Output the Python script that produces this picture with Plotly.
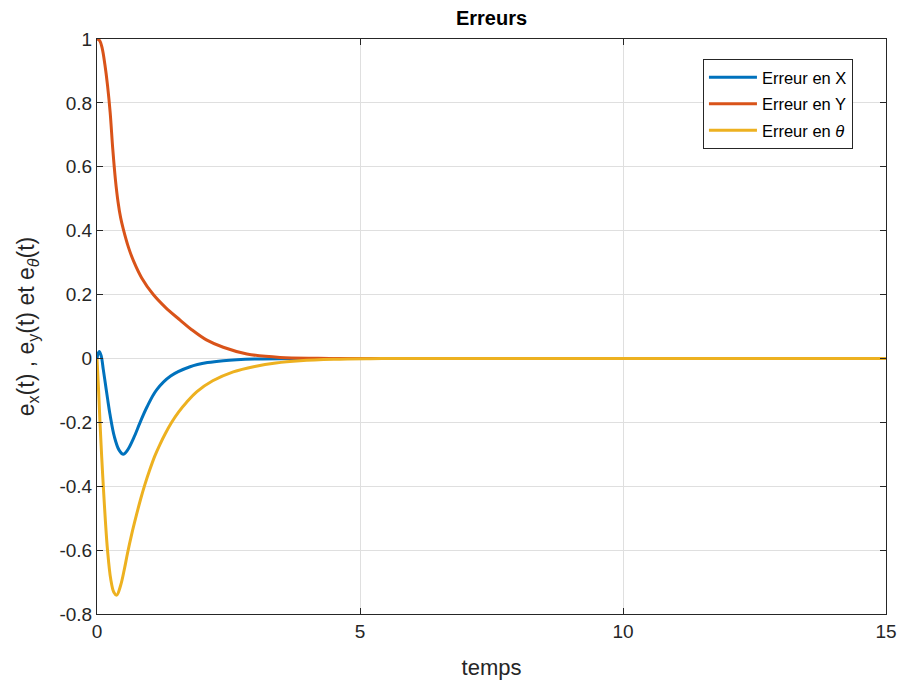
import plotly.graph_objects as go

# ---- data ----
t_x = [0, 0.02, 0.045, 0.08, 0.12, 0.16, 0.2, 0.25, 0.33, 0.42, 0.5, 0.58, 0.7, 0.82, 0.95, 1.13, 1.4, 1.77, 2.1, 2.4, 3.0, 4.0, 5.0, 15]
e_x = [0, 0.015, 0.022, 0.008, -0.035, -0.08, -0.125, -0.178, -0.245, -0.287, -0.300, -0.287, -0.248, -0.200, -0.152, -0.099, -0.055, -0.026, -0.013, -0.007, -0.002, 0, 0, 0]

t_y = [0, 0.05, 0.1, 0.15, 0.2, 0.25, 0.3, 0.35, 0.4, 0.45, 0.5, 0.6, 0.7, 0.85, 1.07, 1.3, 1.58, 1.8, 2.08, 2.4, 2.85, 3.48, 4.2, 5.0, 15]
e_y = [1.0, 0.995, 0.97, 0.92, 0.855, 0.77, 0.655, 0.56, 0.49, 0.44, 0.405, 0.347, 0.303, 0.252, 0.20, 0.16, 0.12, 0.09, 0.058, 0.035, 0.014, 0.003, 0.0005, 0, 0]

t_th = [0, 0.03, 0.057, 0.09, 0.12, 0.16, 0.2, 0.26, 0.32, 0.374, 0.45, 0.52, 0.58, 0.66, 0.75, 0.83, 0.91, 1.0, 1.1, 1.2, 1.3, 1.42, 1.55, 1.7, 1.9, 2.2, 2.59, 3.0, 3.4, 3.86, 4.5, 5.2, 6.0, 15]
e_th = [0, -0.1, -0.2, -0.31, -0.4, -0.51, -0.6, -0.69, -0.732, -0.741, -0.71, -0.66, -0.61, -0.55, -0.49, -0.44, -0.395, -0.35, -0.305, -0.268, -0.235, -0.2, -0.168, -0.138, -0.104, -0.07, -0.042, -0.025, -0.014, -0.007, -0.0025, -0.0007, 0, 0]

series_names = ["Erreur en X", "Erreur en Y", "Erreur en <i>θ</i>"]
series_colors = ["#0072BD", "#D95319", "#EDB120"]

x_ticks = [0, 5, 10, 15]
x_ticklabels = ["0", "5", "10", "15"]
y_ticks = [-0.8, -0.6, -0.4, -0.2, 0, 0.2, 0.4, 0.6, 0.8, 1]
y_ticklabels = ["-0.8", "-0.6", "-0.4", "-0.2", "0", "0.2", "0.4", "0.6", "0.8", "1"]

FONT = "Liberation Sans, Arial, Helvetica, sans-serif"
AX = "#262626"

W, H = 902, 691

fig = go.Figure()
for i, (tt, vv, nm, col) in enumerate(zip([t_x, t_y, t_th], [e_x, e_y, e_th], series_names, series_colors)):
    fig.add_trace(go.Scatter(x=tt, y=vv, mode="lines", name=nm, legendgroup=f"g{i}",
                             line=dict(color=col, width=3, shape="spline", smoothing=1.0)))

axis_common = dict(showline=True, linecolor=AX, linewidth=1, mirror="ticks",
                   ticks="inside", ticklen=6, tickcolor=AX, showgrid=True,
                   gridcolor="#dfdfdf", gridwidth=1, zeroline=False, automargin=False,
                   tickfont=dict(family=FONT, size=19, color=AX))

fig.update_xaxes(range=[0, 15], tickvals=x_ticks, ticktext=x_ticklabels,
                 title=dict(text="temps", font=dict(family=FONT, size=22, color=AX), standoff=18),
                 **axis_common)
fig.update_yaxes(range=[-0.8, 1], tickvals=y_ticks, ticktext=y_ticklabels,
                 title=dict(text="e<sub>x</sub>(t) , e<sub>y</sub>(t) et e<sub><i>θ</i></sub>(t)",
                            font=dict(family=FONT, size=23, color=AX), standoff=18),
                 **axis_common)

fig.update_layout(
    width=W, height=H,
    margin=dict(l=97, r=W - 886, t=39, b=H - 614, autoexpand=False),
    paper_bgcolor="white", plot_bgcolor="white",
    font=dict(family=FONT, color=AX),
    title=dict(text="<b>Erreurs</b>", x=0.5, xref="paper", xanchor="center",
               yref="container", y=1 - 18 / H, yanchor="middle",
               font=dict(family=FONT, size=20, color="black")),
    legend=dict(x=0.768, y=0.965, xanchor="left", yanchor="top",
                bgcolor="white", bordercolor=AX, borderwidth=1, tracegroupgap=2,
                itemwidth=48,
                font=dict(family=FONT, size=16.5, color="black")),
    showlegend=True,
)

# remove the default 8px page margin so the figure fills the window exactly
fig.write_html("out.html", config={"displayModeBar": False},
               post_script="document.body.style.margin='0';document.body.style.overflow='hidden';")
